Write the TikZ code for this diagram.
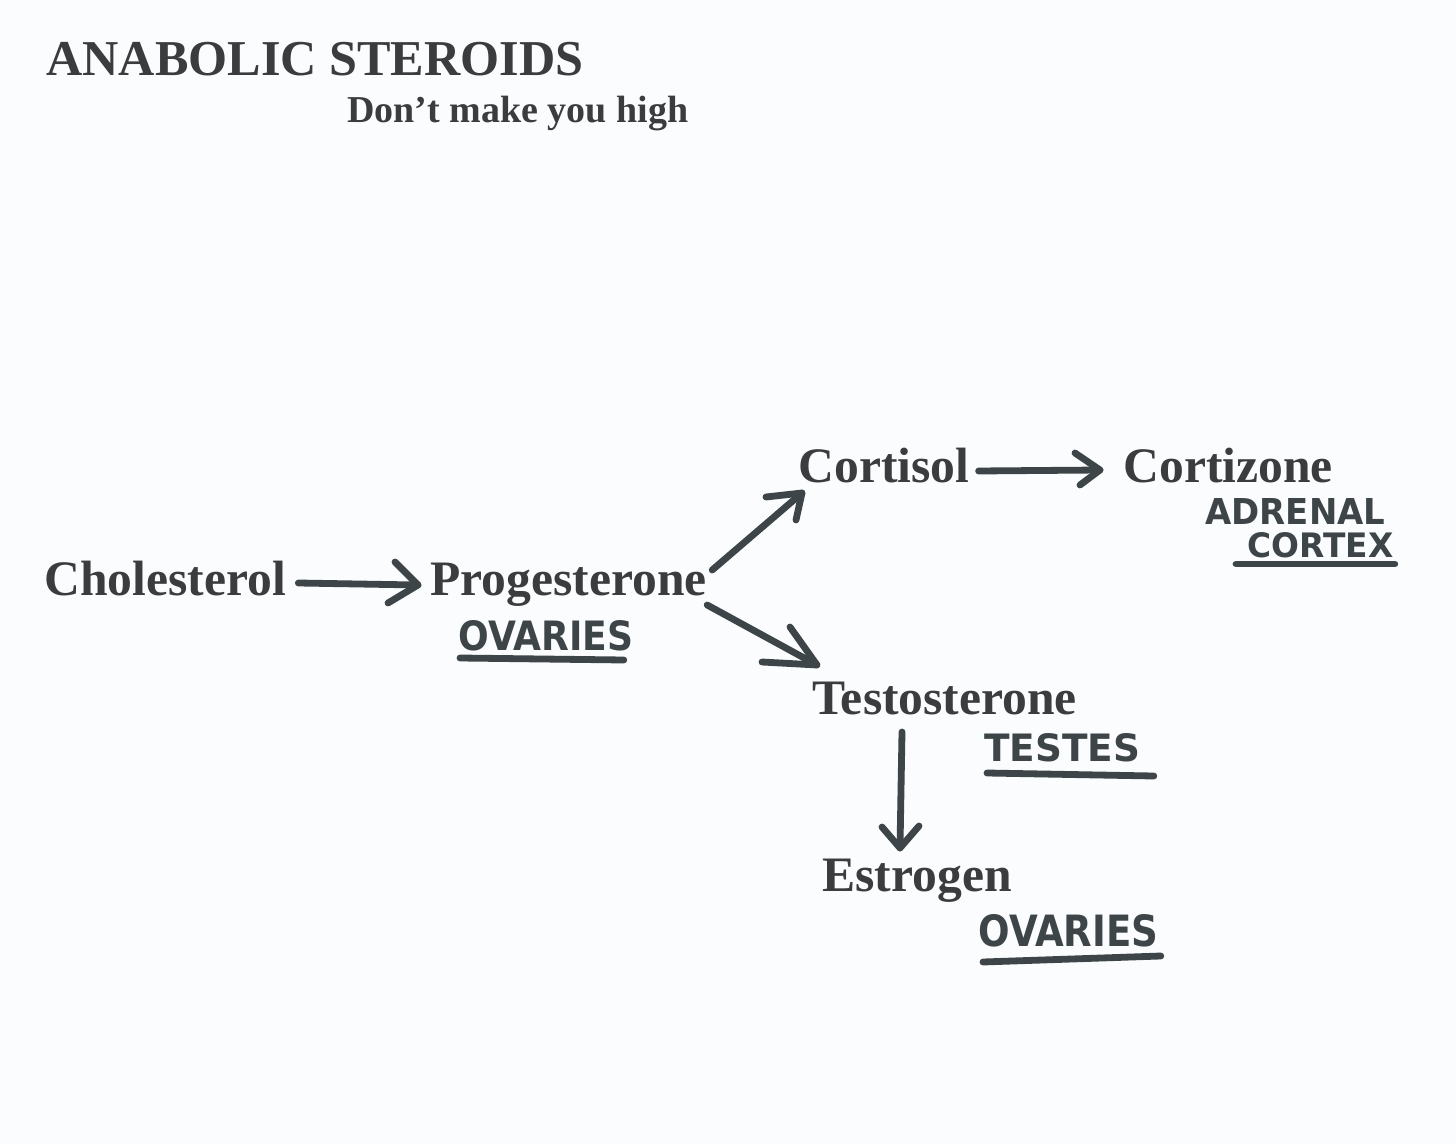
\documentclass[tikz,border=0pt]{standalone}
\usepackage{fontspec}
\usepackage{graphicx}
\setmainfont{Liberation Serif}
\newfontfamily\hwfont{DejaVu Sans}
\usetikzlibrary{calc}
\definecolor{ink}{RGB}{58,60,62}
\definecolor{marker}{RGB}{62,69,72}
\definecolor{paper}{RGB}{250,252,253}
\newcommand\hwtext[3]{\resizebox{#1pt}{#2pt}{\hwfont\bfseries #3}}
\begin{document}
\begin{tikzpicture}[x=0.5pt,y=-0.5pt,
  lbl/.style={inner sep=0pt, anchor=base west, text=ink, font=\fontsize{24.8}{30}\selectfont\bfseries},
  hw/.style={inner sep=0pt, anchor=base west, text=marker},
  mk/.style={draw=marker, line width=3.4pt, line cap=round, line join=round}]
\fill[paper] (0,0) rectangle (1456,1144);
\useasboundingbox (0,0) rectangle (1456,1144);

% printed labels
\node[lbl, font=\fontsize{25.1}{30}\selectfont\bfseries] (title) at (46,76) {ANABOLIC STEROIDS};
\node[lbl, font=\fontsize{19}{23}\selectfont\bfseries] (sub) at (347,123) {Don’t make you high};
\node[lbl] (chol) at (44,595) {Cholesterol};
\node[lbl] (prog) at (430,595) {Progesterone};
\node[lbl] (cortisol) at (798,482) {Cortisol};
\node[lbl] (cortizone) at (1123,482) {Cortizone};
\node[lbl] (testo) at (812,714) {Testosterone};
\node[lbl] (estro) at (822,891) {Estrogen};

% handwritten labels
\node[hw] (ov1) at (458,650) {\hwtext{87.5}{15}{OVARIES}};
\node[hw] (adr) at (1205,524) {\hwtext{90}{13}{ADRENAL}};
\node[hw] (ctx) at (1247,557) {\hwtext{73}{12.5}{CORTEX}};
\node[hw] (tes) at (984,761) {\hwtext{78}{14}{TESTES}};
\node[hw] (ov2) at (978,946) {\hwtext{90}{16}{OVARIES}};

% underlines
\draw[mk] ($(ov1.base west)+(2,8)$) -- ($(ov1.base east)+(-10,10)$);
\draw[mk] ($(ctx.base west)+(-11,7)$) -- ($(ctx.base east)+(1,7)$);
\draw[mk] ($(tes.base west)+(3,12)$) -- ($(tes.base east)+(13,15)$);
\draw[mk] ($(ov2.base west)+(5,16)$) -- ($(ov2.base east)+(2,10)$);

% arrow tips
\coordinate (t1) at ($(prog.base west)+(-12,-10)$);
\coordinate (t2) at ($(cortisol.base west)+(4,11)$);
\coordinate (t3) at ($(testo.base west)+(5,-49)$);
\coordinate (t4) at ($(cortizone.base west)+(-23,-12)$);
\coordinate (t5) at ($(estro.base west)+(78,-43)$);

% Cholesterol -> Progesterone
\draw[mk] ($(chol.base east)+(12,-12)$) -- (t1);
\draw[mk] ($(t1)+(-23,-23)$) -- (t1) -- ($(t1)+(-30,18)$);
% Progesterone -> Cortisol
\draw[mk] ($(prog.base east)+(5,-25)$) -- (t2);
\draw[mk] ($(t2)+(-36,4)$) -- (t2) -- ($(t2)+(-6,27)$);
% Progesterone -> Testosterone
\draw[mk] ($(prog.base east)+(0,10)$) -- (t3);
\draw[mk] ($(t3)+(-27,-38)$) -- (t3) -- ($(t3)+(-55,-3)$);
% Cortisol -> Cortizone
\draw[mk] ($(cortisol.base east)+(9,-11)$) -- (t4);
\draw[mk] ($(t4)+(-25,-17)$) -- (t4) -- ($(t4)+(-20,15)$);
% Testosterone -> Estrogen
\draw[mk] ($(testo.base west)+(90,18)$) -- (t5);
\draw[mk] ($(t5)+(-18,-21)$) -- (t5) -- ($(t5)+(19,-22)$);
\end{tikzpicture}
\end{document}
